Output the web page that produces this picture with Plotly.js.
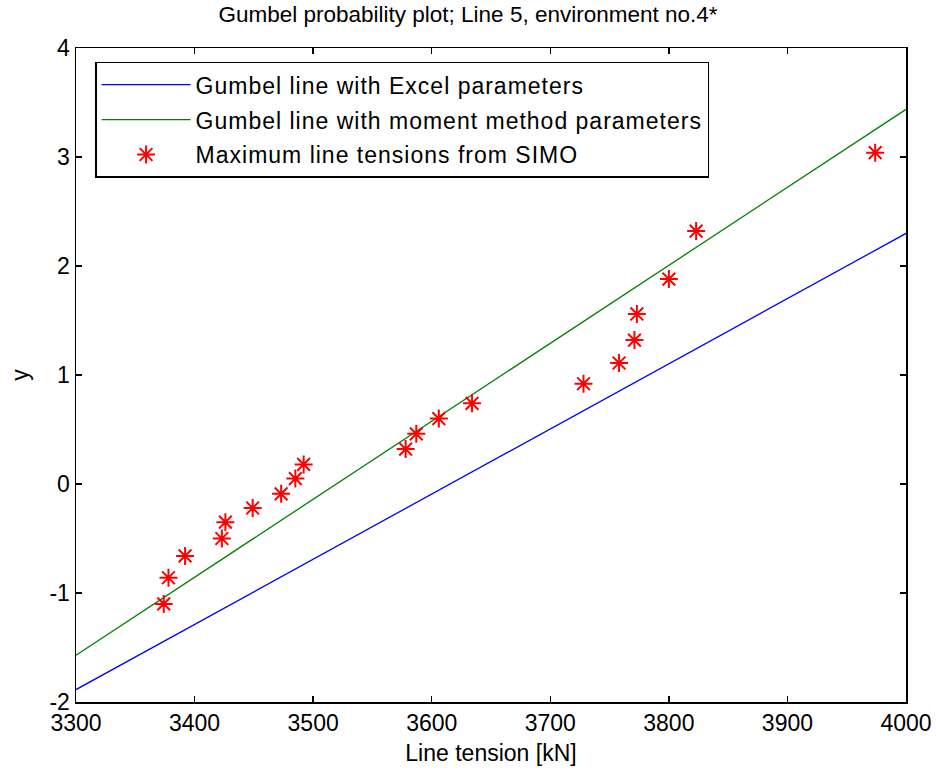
<!DOCTYPE html>
<html>
<head>
<meta charset="utf-8">
<script src="https://cdn.plot.ly/plotly-3.0.1.min.js"></script>
<style>html,body{margin:0;padding:0;background:#fff;}#chart{width:936px;height:772px;}
.legendtext{letter-spacing:1px;}</style>
</head>
<body>
<div id="chart"></div>
<script>
// Line curves
const lineX = [3300, 3400, 3500, 3600, 3700, 3800, 3900, 4000];
const excelY = [-1.886, -1.288, -0.690, -0.092, 0.506, 1.110, 1.701, 2.299];
const momentY = [-1.571, -0.856, -0.140, 0.575, 1.291, 2.006, 2.722, 3.437];
// Maximum line tensions from SIMO
const simoX = [3374, 3378, 3392, 3423, 3426, 3449, 3473, 3485, 3492, 3578, 3587, 3606, 3634, 3728, 3758, 3771, 3773, 3800, 3823, 3974];
const simoY = [-1.10, -0.86, -0.66, -0.50, -0.35, -0.22, -0.09, 0.05, 0.18, 0.32, 0.46, 0.60, 0.74, 0.92, 1.11, 1.32, 1.56, 1.88, 2.32, 3.04];
const xTicks = [3300, 3400, 3500, 3600, 3700, 3800, 3900, 4000];
const yTicks = [-2, -1, 0, 1, 2, 3, 4];

const font = "Liberation Sans, Arial, sans-serif";
const traces = [
  {x: lineX, y: excelY, mode: 'lines', name: 'Gumbel line with Excel parameters', legendgroup: 'a', line: {color: '#0000ff', width: 1.3}},
  {x: lineX, y: momentY, mode: 'lines', name: 'Gumbel line with moment method parameters', legendgroup: 'b', line: {color: '#008000', width: 1.3}},
  {x: simoX, y: simoY, mode: 'markers', name: 'Maximum line tensions from SIMO', legendgroup: 'c',
   marker: {symbol: 'asterisk-open', size: 15, color: '#ff0000', line: {color: '#ff0000', width: 2}}}
];
const axisCommon = {
  showgrid: false, zeroline: false, showline: true, mirror: 'ticks', linecolor: '#000', linewidth: 1.5,
  ticks: 'inside', ticklen: 6, tickcolor: '#000', tickwidth: 1.5,
  tickfont: {family: font, size: 23, color: '#000'}
};
const layout = {
  width: 936, height: 772,
  margin: {l: 76, r: 30, t: 48, b: 70},
  paper_bgcolor: '#fff', plot_bgcolor: '#fff',
  title: {text: 'Gumbel probability plot; Line 5, environment no.4*', font: {family: font, size: 22.5, color: '#000'}, x: 0.5, xanchor: 'center', y: 0.992, yanchor: 'top'},
  xaxis: Object.assign({}, axisCommon, {range: [3300, 4000], tickvals: xTicks, ticktext: xTicks.map(String),
    title: {text: 'Line tension [kN]', font: {family: font, size: 23, color: '#000'}, standoff: 10}}),
  yaxis: Object.assign({}, axisCommon, {range: [-2, 4], tickvals: yTicks, ticktext: yTicks.map(String),
    title: {text: 'y', font: {family: font, size: 23, color: '#000'}, standoff: 14}}),
  legend: {x: 0.023, y: 0.979, xanchor: 'left', yanchor: 'top', bgcolor: '#fff', bordercolor: '#000', borderwidth: 1.5,
    font: {family: font, size: 23, color: '#000'}, itemwidth: 89, tracegroupgap: 2},
  showlegend: true
};
Plotly.newPlot('chart', traces, layout, {displayModeBar: false, staticPlot: true});
</script>
</body>
</html>
